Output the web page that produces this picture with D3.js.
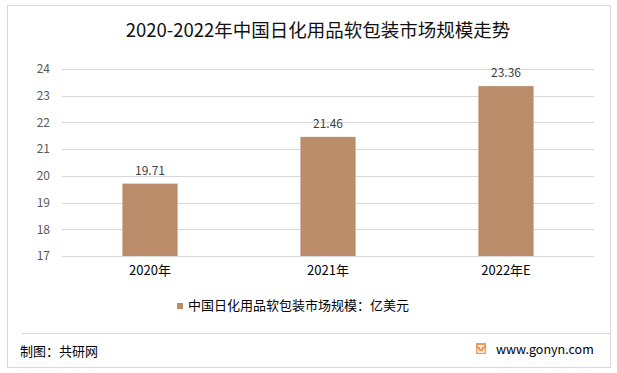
<!DOCTYPE html>
<html>
<head>
<meta charset="utf-8">
<script src="https://cdn.jsdelivr.net/npm/d3@7"></script>
<style>
  body { margin: 0; background: #fff; }
  svg { display: block; font-family: "Microsoft YaHei", "Noto Sans CJK SC", sans-serif; }
</style>
</head>
<body>
<div id="card"></div>
<script>
// chart data
const years = ["2020年", "2021年", "2022年E"];
const values = [19.71, 21.46, 23.36];
const yTicks = [17, 18, 19, 20, 21, 22, 23, 24];
const seriesName = "中国日化用品软包装市场规模：亿美元";
const chartTitle = "2020-2022年中国日化用品软包装市场规模走势";

const w = 617;
const h = 373;
const barColor = "#BA8C6A";

const svg = d3.select("#card")
  .append("svg")
    .attr("width", w)
    .attr("height", h);

// frame
svg.append("rect")
  .attr("x", 7.5).attr("y", 5.5)
  .attr("width", 603).attr("height", 362)
  .attr("fill", "#fff")
  .attr("stroke", "#d9d9d9");

svg.append("line")
  .attr("x1", 22).attr("x2", 610)
  .attr("y1", 333.5).attr("y2", 333.5)
  .attr("stroke", "#d9d9d9");

// title
svg.append("text")
  .attr("x", 318).attr("y", 37)
  .attr("text-anchor", "middle")
  .style("font-size", "18.5px")
  .style("fill", "#111")
  .text(chartTitle);

const x = d3.scaleBand()
  .domain(years)
  .range([61, 595])
  .paddingInner(0.69)
  .paddingOuter(0.345);

const y = d3.scaleLinear()
  .domain([17, 24])
  .range([256, 69]);

// gridlines
svg.append("g")
  .selectAll("line")
  .data(yTicks)
  .enter()
  .append("line")
    .attr("x1", 62).attr("x2", 594)
    .attr("y1", d => Math.round(y(d)) + 0.5)
    .attr("y2", d => Math.round(y(d)) + 0.5)
    .attr("stroke", "#d9d9d9");

// y axis labels
const yAxis = d3.axisLeft(y).tickValues(yTicks).tickFormat(d3.format("d")).tickSize(0).tickPadding(0);
const ya = svg.append("g")
  .attr("transform", "translate(50,0)")
  .call(yAxis);
ya.select(".domain").remove();
ya.selectAll("text")
  .style("font-size", "12px")
  .style("fill", "#595959")
  .style("font-family", "\"Microsoft YaHei\", \"Noto Sans CJK SC\", sans-serif");

// x axis labels
const xAxis = d3.axisBottom(x).tickSize(0).tickPadding(0);
const xa = svg.append("g")
  .attr("transform", "translate(0,266)")
  .call(xAxis);
xa.select(".domain").remove();
xa.selectAll("text")
  .style("font-size", "13px")
  .style("fill", "#000")
  .style("font-family", "\"Microsoft YaHei\", \"Noto Sans CJK SC\", sans-serif");

// bars
svg.selectAll(".bar")
  .data(values)
  .enter()
  .append("rect")
    .classed("bar", true)
    .attr("x", (d, i) => x(years[i]))
    .attr("y", d => y(d))
    .attr("width", x.bandwidth())
    .attr("height", d => y(17) - y(d))
    .attr("fill", barColor);

// value labels
svg.selectAll(".val")
  .data(values)
  .enter()
  .append("text")
    .classed("val", true)
    .attr("x", (d, i) => x(years[i]) + x.bandwidth() / 2)
    .attr("y", d => y(d) - 9)
    .attr("text-anchor", "middle")
    .style("font-size", "12px")
    .style("fill", "#404040")
    .text(d => d.toFixed(2));

// legend
const legend = svg.append("g").attr("transform", "translate(177,303)");
legend.append("rect")
  .attr("width", 6).attr("height", 6)
  .attr("fill", barColor);
legend.append("text")
  .attr("x", 11).attr("y", 7)
  .style("font-size", "13px")
  .style("fill", "#000")
  .text(seriesName);

// footer
svg.append("text")
  .attr("x", 20).attr("y", 356)
  .style("font-size", "13px")
  .style("fill", "#000")
  .text("制图：共研网");

const logo = svg.append("g").attr("transform", "translate(476,343)");
logo.append("rect")
  .attr("width", 10).attr("height", 11)
  .attr("fill", "#f29a55");
logo.append("path")
  .attr("d", "M2,3 H8 M5,3 V6 M2,6 V9 H8 V6")
  .attr("fill", "none")
  .attr("stroke", "#fff")
  .attr("stroke-width", 1.3);

svg.append("text")
  .attr("x", 496).attr("y", 354)
  .style("font-size", "12.5px")
  .style("fill", "#000")
  .text("www.gonyn.com");
</script>
</body>
</html>
